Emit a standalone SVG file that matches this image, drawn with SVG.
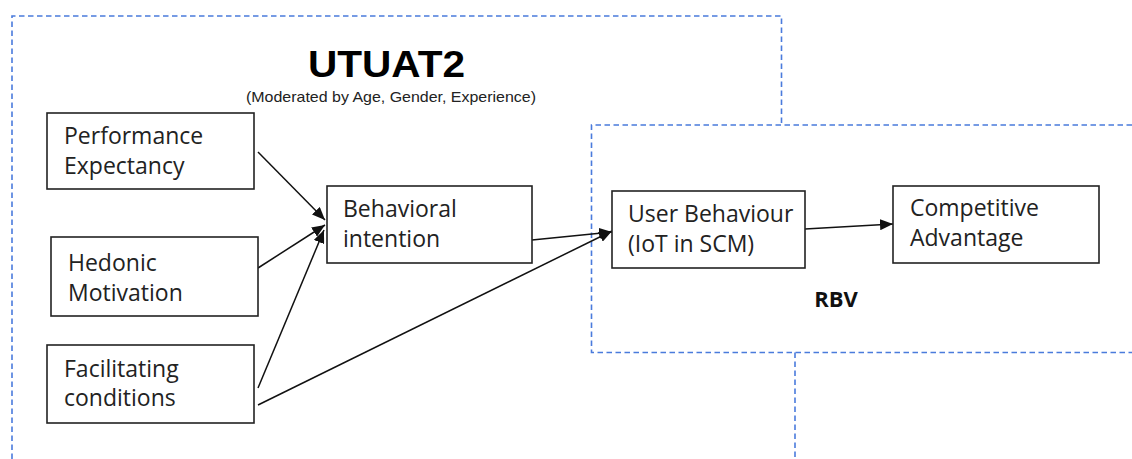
<svg xmlns="http://www.w3.org/2000/svg" width="1132" height="459" viewBox="0 0 1132 459">
<style>
.frame{fill:none;stroke:#4a7bdc;stroke-width:1.6;stroke-dasharray:5.5 3.5}
.box{fill:#fff;stroke:#222;stroke-width:1.6}
.lbl{font-family:"Open Sans","Noto Sans",sans-serif;font-size:23px;fill:#222}
.conn{fill:none;stroke:#111;stroke-width:1.5;marker-end:url(#arr)}
</style>
<defs>
<marker id="arr" markerUnits="userSpaceOnUse" markerWidth="13" markerHeight="11" refX="13" refY="5.5" orient="auto">
<path d="M0,0 L13,5.5 L0,11 z" fill="#111"/>
</marker>
</defs>
<rect width="1132" height="459" fill="#fff"/>
<g id="frames">
<path class="frame" d="M12,459 V16 H781.5 V125"/>
<path class="frame" d="M1132,125 H591.5 V352.5 H1132"/>
<path class="frame" d="M795,352.5 V459"/>
</g>
<g id="titles">
<text x="308" y="77" font-family="'Liberation Sans',Arial,sans-serif" font-weight="bold" font-size="36" textLength="157" lengthAdjust="spacingAndGlyphs" fill="#000">UTUAT2</text>
<text x="246" y="102" font-family="'Liberation Sans',Arial,sans-serif" font-size="14.5" textLength="290" lengthAdjust="spacingAndGlyphs" fill="#222">(Moderated by Age, Gender, Experience)</text>
<text x="836" y="307" text-anchor="middle" font-family="'Open Sans','Noto Sans',sans-serif" font-weight="bold" font-size="22" fill="#111">RBV</text>
</g>
<g id="connectors">
<line class="conn" x1="258" y1="152" x2="325" y2="220"/>
<line class="conn" x1="258" y1="268" x2="325" y2="225"/>
<line class="conn" x1="258" y1="388" x2="324" y2="230"/>
<line class="conn" x1="258" y1="405" x2="612" y2="231"/>
<line class="conn" x1="532" y1="240" x2="612" y2="232"/>
<line class="conn" x1="805" y1="229" x2="893" y2="224"/>
</g>
<g id="performance">
<rect class="box" x="47" y="113" width="207" height="76"/>
<text class="lbl" x="64" y="144">Performance</text>
<text class="lbl" x="64" y="174">Expectancy</text>
</g>
<g id="hedonic">
<rect class="box" x="51" y="237" width="207" height="79"/>
<text class="lbl" x="68" y="271">Hedonic</text>
<text class="lbl" x="68" y="301">Motivation</text>
</g>
<g id="facilitating">
<rect class="box" x="47" y="345" width="207" height="78"/>
<text class="lbl" x="64" y="377">Facilitating</text>
<text class="lbl" x="64" y="406">conditions</text>
</g>
<g id="behavioral">
<rect class="box" x="327" y="186" width="205" height="77"/>
<text class="lbl" x="343" y="217">Behavioral</text>
<text class="lbl" x="343" y="247">intention</text>
</g>
<g id="userbehaviour">
<rect class="box" x="612" y="191" width="193" height="77"/>
<text class="lbl" x="628" y="222">User Behaviour</text>
<text class="lbl" x="628" y="252">(IoT in SCM)</text>
</g>
<g id="competitive">
<rect class="box" x="893" y="186" width="206" height="77"/>
<text class="lbl" x="910" y="216">Competitive</text>
<text class="lbl" x="910" y="246">Advantage</text>
</g>
</svg>
